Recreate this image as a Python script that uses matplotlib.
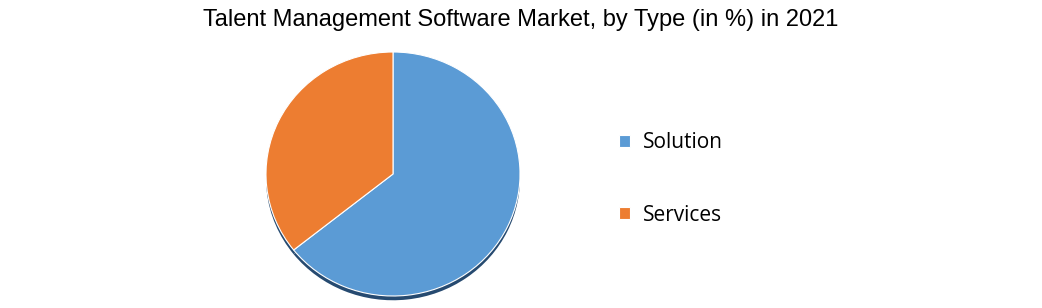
import matplotlib.pyplot as plt

# data
types = ['Solution', 'Services']
share = [64.3, 35.7]
colors = ['#5B9BD5', '#ED7D31']

W, H = 1042, 308
fig = plt.figure(figsize=(W / 100, H / 100), dpi=100)
fig.patch.set_facecolor('white')

# pie area in pixels (left, top, right, bottom)
l, t, r, b = 266, 52, 520, 296
ax = fig.add_axes([l / W, (H - b) / H, (r - l) / W, (b - t) / H])

# dark shadow under the pie
ax.pie(share, colors=['#264a70', '#264a70'], startangle=90, counterclock=False,
       center=(0.0, -0.035), radius=1.0)
wedges, _ = ax.pie(share, colors=colors, startangle=90, counterclock=False,
                   wedgeprops=dict(edgecolor='white', linewidth=0.8), radius=1.0)
ax.set_xlim(-1.0, 1.0)
ax.set_ylim(-1.0, 1.0)
ax.set_aspect('auto')
ax.axis('off')

fig.text(0.5, 1 - 20 / H, 'Talent Management Software Market, by Type (in %) in 2021',
         ha='center', va='center', fontsize=17,
         family=['Liberation Sans', 'DejaVu Sans'])

leg = fig.legend(wedges, types, loc='center left',
                 bbox_to_anchor=(600 / W, 1 - 179 / H), frameon=False,
                 labelspacing=2.45, handlelength=0.55, handleheight=0.55,
                 handletextpad=0.6, prop={'family': 'Open Sans', 'size': 15})

plt.savefig('out.png', dpi=100)
